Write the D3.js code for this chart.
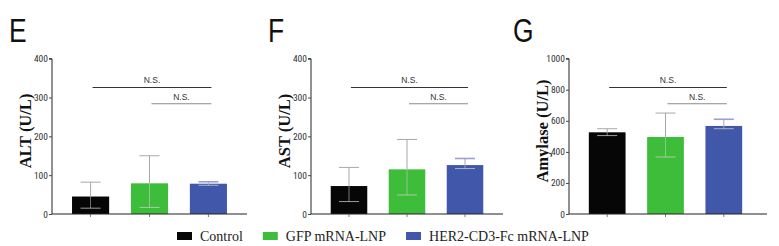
<!DOCTYPE html>
<html>
<head>
<meta charset="utf-8">
<script src="https://cdn.jsdelivr.net/npm/d3@7"></script>
<style>
  html, body { margin: 0; padding: 0; background: #fff; }
  svg { display: block; }
  .tick text { font-family: "Liberation Sans Narrow", "Roboto Condensed", "Liberation Sans", Arial, sans-serif; fill: #333; }
  .ns { font-family: "Liberation Sans Narrow", "Liberation Sans", Arial, sans-serif; font-size: 8.5px; fill: #333; }
  .ytitle { font-family: "Liberation Serif", "Times New Roman", serif; font-weight: bold; font-size: 16.5px; fill: #111; }
  .letter { font-family: "Liberation Sans", Arial, sans-serif; font-size: 33px; fill: #111; }
  .leg { font-family: "Liberation Serif", "DejaVu Serif", serif; font-size: 14px; fill: #222; }
</style>
</head>
<body>
<svg id="chart" width="779" height="246"></svg>
<script>
// ── Data ─────────────────────────────────────────────────────────────────────
const groups = ["Control", "GFP mRNA-LNP", "HER2-CD3-Fc mRNA-LNP"];
const colors = ["#060606", "#3dbd3a", "#4157a9"];

const altMean = [45, 79, 78];
const altLow  = [15, 17, 74];
const altHigh = [82, 150, 83];

const astMean = [72, 115, 126];
const astLow  = [32, 49, 117];
const astHigh = [120, 192, 143];

const amyMean = [526, 496, 567];
const amyLow  = [505, 367, 549];
const amyHigh = [549, 650, 610];

const altTicks = [0, 100, 200, 300, 400];
const amyTicks = [0, 200, 400, 600, 800, 1000];

// ── Panel configuration ──────────────────────────────────────────────────────
const panels = [
  { letter: "E", title: "ALT (U/L)", mean: altMean, low: altLow, high: altHigh,
    max: 400, ticks: altTicks, brackets: [326, 284],
    x0: 52, x1: 247, axisEnd: 247, letterX: 9, titleX: 25 },
  { letter: "F", title: "AST (U/L)", mean: astMean, low: astLow, high: astHigh,
    max: 400, ticks: altTicks, brackets: [326, 284],
    x0: 311, x1: 503, axisEnd: 503, letterX: 268, titleX: 284 },
  { letter: "G", title: "Amylase (U/L)", mean: amyMean, low: amyLow, high: amyHigh,
    max: 1000, ticks: amyTicks, brackets: [815, 710],
    x0: 569, x1: 762, axisEnd: 767, letterX: 513, titleX: 542 }
];

const svg = d3.select("#chart");
const Y0 = 214, Y1 = 58.7;

panels.forEach(p => {
  const g = svg.append("g");
  const x = d3.scaleBand().domain(groups).range([p.x0, p.x1])
    .paddingInner(0.37).paddingOuter(0.34);
  const y = d3.scaleLinear().domain([0, p.max]).range([Y0, Y1]);
  const cx = d => x(d) + x.bandwidth() / 2;

  // panel letter
  g.append("text").attr("class", "letter")
    .attr("transform", `translate(${p.letterX},42) scale(0.8,1)`)
    .text(p.letter);

  // y title
  g.append("text").attr("class", "ytitle")
    .attr("transform", `translate(${p.titleX + 6},131) rotate(-90)`)
    .attr("text-anchor", "middle")
    .text(p.title);

  // bars
  g.selectAll("rect.bar").data(groups).join("rect")
    .attr("class", "bar")
    .attr("x", d => x(d)).attr("width", x.bandwidth())
    .attr("y", (d, i) => y(p.mean[i]))
    .attr("height", (d, i) => Y0 - y(p.mean[i]))
    .attr("fill", (d, i) => colors[i]);

  // error bars: upper whisker (gray) and lower whisker (light, inside bar)
  const capW = 10;
  groups.forEach((d, i) => {
    const c = cx(d);
    g.append("line").attr("x1", c).attr("x2", c)
      .attr("y1", y(p.high[i])).attr("y2", y(p.mean[i]))
      .attr("stroke", "#a8a8a8").attr("stroke-width", 1);
    g.append("line").attr("x1", c - capW).attr("x2", c + capW)
      .attr("y1", y(p.high[i])).attr("y2", y(p.high[i]))
      .attr("stroke", i === 2 ? "#9aa0d0" : "#a8a8a8").attr("stroke-width", i === 2 ? 1.6 : 1);
    g.append("line").attr("x1", c).attr("x2", c)
      .attr("y1", y(p.mean[i])).attr("y2", y(p.low[i]))
      .attr("stroke", "#cfcfcf").attr("stroke-width", 0.8).attr("opacity", 0.7);
    g.append("line").attr("x1", c - capW).attr("x2", c + capW)
      .attr("y1", y(p.low[i])).attr("y2", y(p.low[i]))
      .attr("stroke", "#d0d0d0").attr("stroke-width", 1).attr("opacity", 0.75);
  });

  // y axis
  const ya = g.append("g").attr("transform", `translate(${p.x0},0)`)
    .call(d3.axisLeft(y).tickValues(p.ticks).tickSize(3).tickPadding(1).tickFormat(d3.format("d")));
  ya.select(".domain").attr("stroke", "#222").attr("stroke-width", 1)
    .attr("d", `M-3,${Y1}H0V${Y0}`);
  ya.selectAll(".tick line").attr("stroke", "#444");
  ya.selectAll(".tick text").attr("font-size", 9.5);

  // x axis
  g.append("line").attr("x1", p.x0).attr("x2", p.axisEnd)
    .attr("y1", Y0).attr("y2", Y0).attr("stroke", "#222").attr("stroke-width", 1.2);
  g.selectAll("line.xt").data(groups).join("line").attr("class", "xt")
    .attr("x1", cx).attr("x2", cx).attr("y1", Y0).attr("y2", Y0 + 3)
    .attr("stroke", "#555").attr("stroke-width", 0.8);

  // significance brackets
  const pairs = [[0, 2], [1, 2]];
  pairs.forEach((pr, k) => {
    const xa = cx(groups[pr[0]]) + 2, xb = cx(groups[pr[1]]) + 3;
    const yy = y(p.brackets[k]);
    g.append("line").attr("x1", xa).attr("x2", xb).attr("y1", yy).attr("y2", yy)
      .attr("stroke", k === 0 ? "#333" : "#8a8a8a").attr("stroke-width", 1.1);
    g.append("text").attr("class", "ns")
      .attr("x", (xa + xb) / 2).attr("y", yy - 4)
      .attr("text-anchor", "middle").text("N.S.");
  });
});

// ── Legend ───────────────────────────────────────────────────────────────────
let lx = 177;
groups.forEach((d, i) => {
  svg.append("rect").attr("x", lx).attr("y", 232).attr("width", 15).attr("height", 8)
    .attr("fill", colors[i]);
  const t = svg.append("text").attr("class", "leg")
    .attr("x", lx + 23).attr("y", 240.5).text(d);
  lx += 23 + t.node().getComputedTextLength() + 20;
});
</script>
</body>
</html>
